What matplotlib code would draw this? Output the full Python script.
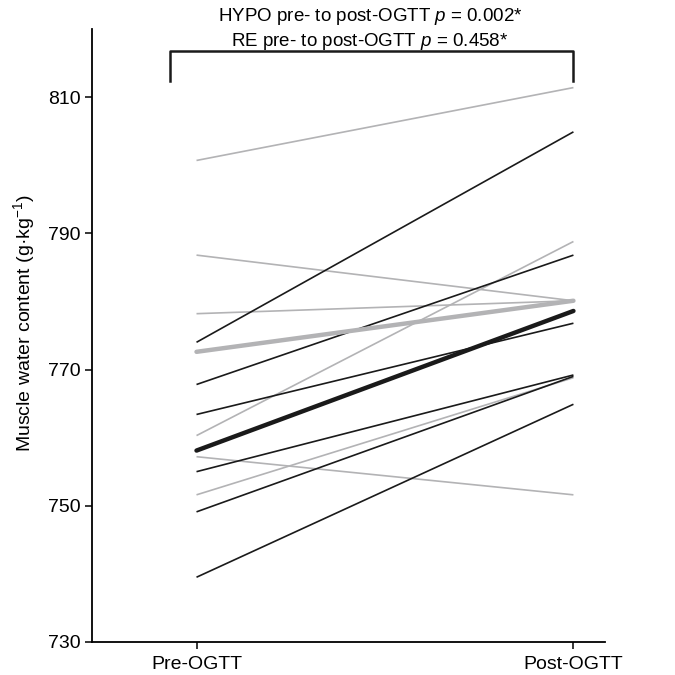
import matplotlib
matplotlib.use('Agg')
import matplotlib.pyplot as plt

plt.rcParams['font.family'] = ['Liberation Sans', 'DejaVu Sans']
plt.rcParams['mathtext.fontset'] = 'custom'
plt.rcParams['mathtext.rm'] = 'Liberation Sans'
plt.rcParams['mathtext.it'] = 'Liberation Sans:italic'

# ── data ──────────────────────────────────────────────
timepoints = ['Pre-OGTT', 'Post-OGTT']

# HYPO participants (black)
hypo_pre  = [774.0, 767.8, 763.4, 755.0, 749.1, 739.5]
hypo_post = [804.9, 786.8, 776.8, 769.2, 769.0, 764.9]
hypo_mean = [758.1, 778.6]

# RE participants (grey)
re_pre  = [800.7, 786.8, 778.2, 760.3, 757.2, 751.6]
re_post = [811.4, 780.1, 780.1, 788.8, 751.6, 768.8]
re_mean = [772.6, 780.1]

yticks = [730, 750, 770, 790, 810]
annot = ['HYPO pre- to post-OGTT $p$ = 0.002*',
         'RE pre- to post-OGTT $p$ = 0.458*']

BLACK = '#1a1a1a'
GREY = '#b3b3b5'

# ── plot ──────────────────────────────────────────────
fig = plt.figure(figsize=(6.75, 6.75), dpi=100)
ax = fig.add_axes([0.137, 0.049, 0.76, 0.908])

x = [0, 1]
for a, b in zip(re_pre, re_post):
    ax.plot(x, [a, b], color=GREY, lw=1.2, solid_capstyle='butt')
for a, b in zip(hypo_pre, hypo_post):
    ax.plot(x, [a, b], color=BLACK, lw=1.2, solid_capstyle='butt')
ax.plot(x, re_mean, color=GREY, lw=3.2, solid_capstyle='round')
ax.plot(x, hypo_mean, color=BLACK, lw=3.2, solid_capstyle='round')

ax.set_xlim(-0.276, 1.085)
ax.set_ylim(730, 820)
ax.set_xticks(x)
ax.set_xticklabels(timepoints, fontsize=14)
ax.set_yticks(yticks)
ax.tick_params(axis='y', labelsize=14, length=5, width=1.1, direction='out')
ax.tick_params(axis='x', length=5, width=1.1, direction='out', pad=5)
ax.set_ylabel('Muscle water content (g·kg$^{-1}$)', fontsize=14)
ax.yaxis.set_label_coords(-0.109, 0.52)

for side in ['top', 'right']:
    ax.spines[side].set_visible(False)
for side in ['left', 'bottom']:
    ax.spines[side].set_linewidth(1.3)

# bracket + annotation
ax.plot([-0.07, -0.07, 1.0, 1.0], [812.4, 816.7, 816.7, 812.4], color=BLACK,
        lw=1.8, clip_on=False, solid_joinstyle='round')
ax.text(0.46, 821.8, annot[0], ha='center', va='center', fontsize=13.5, clip_on=False)
ax.text(0.46, 818.2, annot[1], ha='center', va='center', fontsize=13.5, clip_on=False)

fig.savefig('out.png', dpi=100)
